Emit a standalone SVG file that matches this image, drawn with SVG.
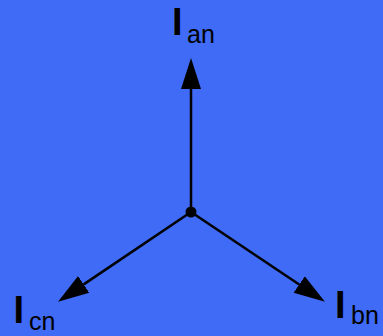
<svg xmlns="http://www.w3.org/2000/svg" width="383" height="336" viewBox="0 0 383 336">
<style>
.main{font-family:"Liberation Sans",Arial,sans-serif;font-weight:bold;font-size:38px;fill:#000}
.sub{font-family:"Liberation Sans",Arial,sans-serif;font-size:25px;fill:#000}
.conn{stroke:#000;stroke-width:2.5;fill:none}
</style>
<defs>
<marker id="ah" markerUnits="userSpaceOnUse" markerWidth="32" markerHeight="22" viewBox="0 -11 32 22" refX="0" refY="0" orient="auto">
<path d="M0,-10 L31,0 L0,10 Z" fill="#000"/>
</marker>
</defs>
<rect width="383" height="336" fill="#3F6BF6"/>
<g id="connectors">
<line class="conn" x1="191" y1="212" x2="191" y2="89" marker-end="url(#ah)"/>
<line class="conn" x1="191" y1="212" x2="83.7" y2="284.4" marker-end="url(#ah)"/>
<line class="conn" x1="191" y1="212" x2="299.2" y2="284.5" marker-end="url(#ah)"/>
</g>
<g id="center"><circle cx="191" cy="212" r="5.5" fill="#000"/></g>
<g id="Ian"><text class="main" x="172" y="35">I</text><text class="sub" x="187" y="43">an</text></g>
<g id="Icn"><text class="main" x="13.6" y="323">I</text><text class="sub" x="29" y="330">cn</text></g>
<g id="Ibn"><text class="main" x="335" y="318">I</text><text class="sub" x="351" y="324">bn</text></g>
</svg>
